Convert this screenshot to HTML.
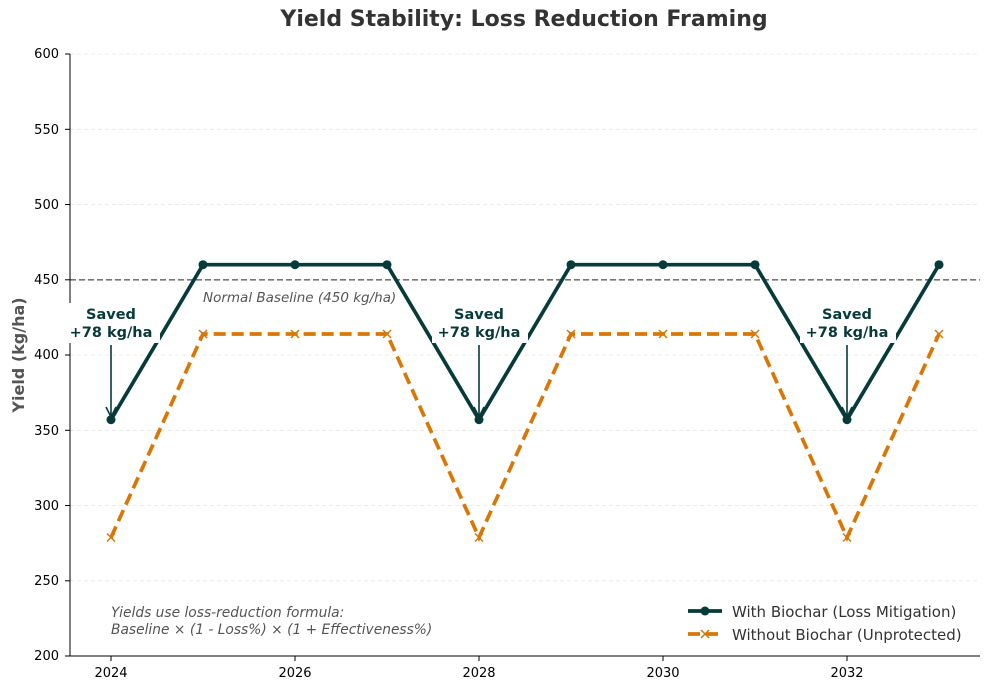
<!DOCTYPE html>
<html><head><meta charset="utf-8"><style>
body{margin:0;background:#fff}
svg{display:block;font-family:"DejaVu Sans","Liberation Sans",sans-serif}
</style></head><body>
<svg width="989" height="690" viewBox="0 0 989 690" xmlns="http://www.w3.org/2000/svg">
<text x="524" y="26" text-anchor="middle" font-size="22" font-weight="bold" fill="#333">Yield Stability: Loss Reduction Framing</text>
<g stroke="#e6e6e6" stroke-dasharray="4,3" stroke-width="0.8">
<line x1="70" x2="980" y1="54" y2="54"/><line x1="70" x2="980" y1="129.3" y2="129.3"/><line x1="70" x2="980" y1="204.5" y2="204.5"/><line x1="70" x2="980" y1="279.8" y2="279.8"/><line x1="70" x2="980" y1="355" y2="355"/><line x1="70" x2="980" y1="430.3" y2="430.3"/><line x1="70" x2="980" y1="505.5" y2="505.5"/><line x1="70" x2="980" y1="580.8" y2="580.8"/>
</g>
<g font-size="13" fill="#000" text-anchor="end">
<text x="59" y="58">600</text><text x="59" y="134">550</text><text x="59" y="209">500</text><text x="59" y="284">450</text><text x="59" y="359">400</text><text x="59" y="435">350</text><text x="59" y="510">300</text><text x="59" y="585">250</text><text x="59" y="660">200</text>
</g>
<g stroke="#000" stroke-width="1">
<line x1="65" x2="70" y1="54" y2="54"/><line x1="65" x2="70" y1="129.3" y2="129.3"/><line x1="65" x2="70" y1="204.5" y2="204.5"/><line x1="65" x2="70" y1="279.8" y2="279.8"/><line x1="65" x2="70" y1="355" y2="355"/><line x1="65" x2="70" y1="430.3" y2="430.3"/><line x1="65" x2="70" y1="505.5" y2="505.5"/><line x1="65" x2="70" y1="580.8" y2="580.8"/><line x1="65" x2="70" y1="656" y2="656"/>
<line x1="111" x2="111" y1="656" y2="661"/><line x1="295" x2="295" y1="656" y2="661"/><line x1="479" x2="479" y1="656" y2="661"/><line x1="663" x2="663" y1="656" y2="661"/><line x1="847" x2="847" y1="656" y2="661"/>
</g>
<g font-size="13" text-anchor="middle"><text x="111" y="677">2024</text><text x="295" y="677">2026</text><text x="479" y="677">2028</text><text x="663" y="677">2030</text><text x="847" y="677">2032</text></g>
<text transform="translate(24,355) rotate(-90)" text-anchor="middle" font-size="16" font-weight="bold" fill="#555">Yield (kg/ha)</text>
<line x1="70" x2="980" y1="279.8" y2="279.8" stroke="#777" stroke-width="1.7" stroke-dasharray="6,3"/>
<text x="203" y="302" font-size="13.5" font-style="italic" fill="#555">Normal Baseline (450 kg/ha)</text>
<polyline fill="none" stroke="#d97706" stroke-width="3.7" stroke-dasharray="12,6" points="111,537.5 203,334 295,334 387,334 479,537.5 571,334 663,334 755,334 847,537.5 939,334"/>
<g stroke="#d97706" stroke-width="1.5">
<path d="M107,533.5l8,8m0,-8l-8,8M199,330l8,8m0,-8l-8,8M291,330l8,8m0,-8l-8,8M383,330l8,8m0,-8l-8,8M475,533.5l8,8m0,-8l-8,8M567,330l8,8m0,-8l-8,8M659,330l8,8m0,-8l-8,8M751,330l8,8m0,-8l-8,8M843,533.5l8,8m0,-8l-8,8M935,330l8,8m0,-8l-8,8"/>
</g>
<polyline fill="none" stroke="#073b3a" stroke-width="3.7" points="111,419.7 203,264.7 295,264.7 387,264.7 479,419.7 571,264.7 663,264.7 755,264.7 847,419.7 939,264.7"/>
<g fill="#073b3a"><circle cx="111" cy="419.7" r="4.5"/><circle cx="203" cy="264.7" r="4.5"/><circle cx="295" cy="264.7" r="4.5"/><circle cx="387" cy="264.7" r="4.5"/><circle cx="479" cy="419.7" r="4.5"/><circle cx="571" cy="264.7" r="4.5"/><circle cx="663" cy="264.7" r="4.5"/><circle cx="755" cy="264.7" r="4.5"/><circle cx="847" cy="419.7" r="4.5"/><circle cx="939" cy="264.7" r="4.5"/></g>
<line x1="70" x2="70" y1="54" y2="656" stroke="#000"/>
<line x1="70" x2="980" y1="656" y2="656" stroke="#000"/>
<g>
<rect x="64" y="303" width="96" height="40" fill="#fff"/><rect x="432" y="303" width="96" height="40" fill="#fff"/><rect x="800" y="303" width="96" height="40" fill="#fff"/>
</g>
<g font-size="14.5" font-weight="bold" fill="#073b3a" text-anchor="middle">
<text x="111" y="319">Saved</text><text x="111" y="337">+78 kg/ha</text>
<text x="479" y="319">Saved</text><text x="479" y="337">+78 kg/ha</text>
<text x="847" y="319">Saved</text><text x="847" y="337">+78 kg/ha</text>
</g>
<g stroke="#073b3a" stroke-width="1.6" fill="none">
<path d="M111,345V417M106,407l5,10l5,-10M479,345V417M474,407l5,10l5,-10M847,345V417M842,407l5,10l5,-10"/>
</g>
<text font-size="13.8" font-style="italic" fill="#555"><tspan x="111" y="617">Yields use loss-reduction formula:</tspan><tspan x="111" y="634">Baseline × (1 - Loss%) × (1 + Effectiveness%)</tspan></text>
<line x1="688" x2="722" y1="611" y2="611" stroke="#073b3a" stroke-width="3.7"/><circle cx="705" cy="611" r="4.5" fill="#073b3a"/>
<line x1="688" x2="722" y1="634" y2="634" stroke="#d97706" stroke-width="3.7" stroke-dasharray="12,6"/><path d="M701,630l8,8m0,-8l-8,8" stroke="#d97706" stroke-width="1.5"/>
<text x="732" y="617" font-size="15" fill="#333">With Biochar (Loss Mitigation)</text>
<text x="732" y="640" font-size="15" fill="#333">Without Biochar (Unprotected)</text>
</svg>
</body></html>
